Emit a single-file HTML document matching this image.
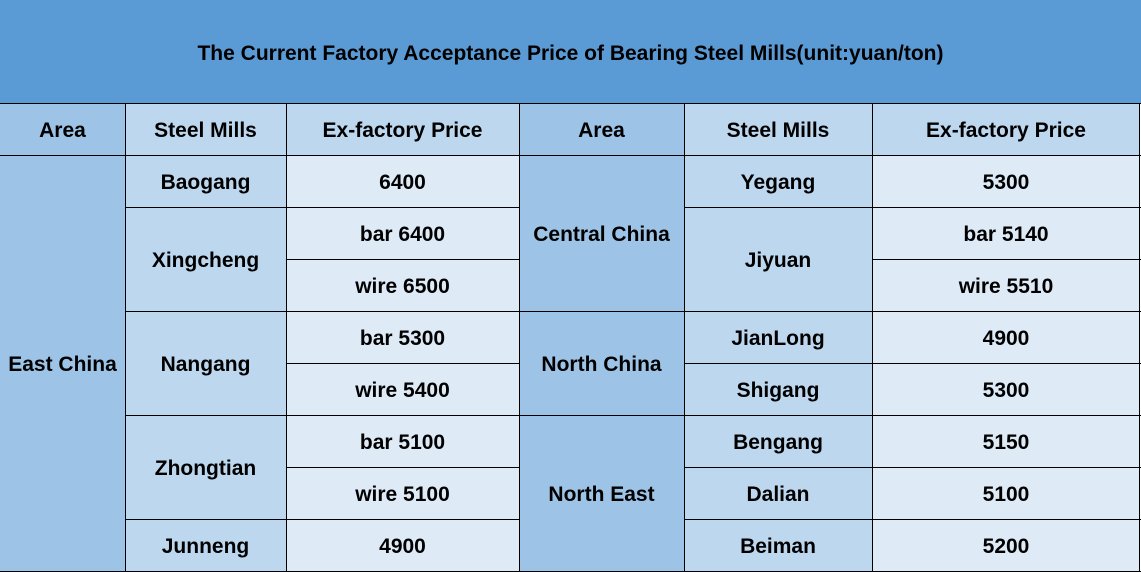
<!DOCTYPE html>
<html><head><meta charset="utf-8"><style>
body{margin:0;width:1141px;height:572px;background:#fff;position:relative;overflow:hidden;font-family:"Liberation Sans",Arial,sans-serif;font-weight:bold;}
.c{position:absolute;display:flex;align-items:center;justify-content:center;font-size:21px;color:#000;box-sizing:border-box;padding-top:4px;}
.h{position:absolute;background:#000;height:1px}
.v{position:absolute;background:#000;width:1px}
</style></head><body>
<div class="c" style="left:0;top:0;width:1141px;height:103px;background:#5b9bd5;">The Current Factory Acceptance Price of Bearing Steel Mills(unit:yuan/ton)</div>
<div class="c" style="left:0;top:103px;width:125px;height:52px;background:#9dc3e6">Area</div>
<div class="c" style="left:125px;top:103px;width:161px;height:52px;background:#bdd7ee">Steel Mills</div>
<div class="c" style="left:286px;top:103px;width:233px;height:52px;background:#bdd7ee">Ex-factory Price</div>
<div class="c" style="left:519px;top:103px;width:165px;height:52px;background:#9dc3e6">Area</div>
<div class="c" style="left:684px;top:103px;width:188px;height:52px;background:#bdd7ee">Steel Mills</div>
<div class="c" style="left:872px;top:103px;width:268px;height:52px;background:#bdd7ee">Ex-factory Price</div>
<div class="c" style="left:0;top:155px;width:125px;height:416px;background:#9dc3e6">East China</div>
<div class="c" style="left:125px;top:155px;width:161px;height:52px;background:#bdd7ee">Baogang</div>
<div class="c" style="left:125px;top:207px;width:161px;height:104px;background:#bdd7ee">Xingcheng</div>
<div class="c" style="left:125px;top:311px;width:161px;height:104px;background:#bdd7ee">Nangang</div>
<div class="c" style="left:125px;top:415px;width:161px;height:104px;background:#bdd7ee">Zhongtian</div>
<div class="c" style="left:125px;top:519px;width:161px;height:52px;background:#bdd7ee">Junneng</div>
<div class="c" style="left:286px;top:155px;width:233px;height:52px;background:#deebf7">6400</div>
<div class="c" style="left:286px;top:207px;width:233px;height:52px;background:#deebf7">bar 6400</div>
<div class="c" style="left:286px;top:259px;width:233px;height:52px;background:#deebf7">wire 6500</div>
<div class="c" style="left:286px;top:311px;width:233px;height:52px;background:#deebf7">bar 5300</div>
<div class="c" style="left:286px;top:363px;width:233px;height:52px;background:#deebf7">wire 5400</div>
<div class="c" style="left:286px;top:415px;width:233px;height:52px;background:#deebf7">bar 5100</div>
<div class="c" style="left:286px;top:467px;width:233px;height:52px;background:#deebf7">wire 5100</div>
<div class="c" style="left:286px;top:519px;width:233px;height:52px;background:#deebf7">4900</div>
<div class="c" style="left:519px;top:155px;width:165px;height:156px;background:#9dc3e6">Central China</div>
<div class="c" style="left:519px;top:311px;width:165px;height:104px;background:#9dc3e6">North China</div>
<div class="c" style="left:519px;top:415px;width:165px;height:156px;background:#9dc3e6">North East</div>
<div class="c" style="left:684px;top:155px;width:188px;height:52px;background:#bdd7ee">Yegang</div>
<div class="c" style="left:684px;top:207px;width:188px;height:104px;background:#bdd7ee">Jiyuan</div>
<div class="c" style="left:684px;top:311px;width:188px;height:52px;background:#bdd7ee">JianLong</div>
<div class="c" style="left:684px;top:363px;width:188px;height:52px;background:#bdd7ee">Shigang</div>
<div class="c" style="left:684px;top:415px;width:188px;height:52px;background:#bdd7ee">Bengang</div>
<div class="c" style="left:684px;top:467px;width:188px;height:52px;background:#bdd7ee">Dalian</div>
<div class="c" style="left:684px;top:519px;width:188px;height:52px;background:#bdd7ee">Beiman</div>
<div class="c" style="left:872px;top:155px;width:268px;height:52px;background:#deebf7">5300</div>
<div class="c" style="left:872px;top:207px;width:268px;height:52px;background:#deebf7">bar 5140</div>
<div class="c" style="left:872px;top:259px;width:268px;height:52px;background:#deebf7">wire 5510</div>
<div class="c" style="left:872px;top:311px;width:268px;height:52px;background:#deebf7">4900</div>
<div class="c" style="left:872px;top:363px;width:268px;height:52px;background:#deebf7">5300</div>
<div class="c" style="left:872px;top:415px;width:268px;height:52px;background:#deebf7">5150</div>
<div class="c" style="left:872px;top:467px;width:268px;height:52px;background:#deebf7">5100</div>
<div class="c" style="left:872px;top:519px;width:268px;height:52px;background:#deebf7">5200</div>
<div class="h" style="left:0;top:103px;width:1141px"></div>
<div class="h" style="left:0;top:155px;width:1141px"></div>
<div class="h" style="left:125px;top:207px;width:394px"></div>
<div class="h" style="left:286px;top:259px;width:233px"></div>
<div class="h" style="left:125px;top:311px;width:394px"></div>
<div class="h" style="left:286px;top:363px;width:233px"></div>
<div class="h" style="left:125px;top:415px;width:394px"></div>
<div class="h" style="left:286px;top:467px;width:233px"></div>
<div class="h" style="left:125px;top:519px;width:394px"></div>
<div class="h" style="left:0;top:571px;width:1141px"></div>
<div class="h" style="left:684px;top:207px;width:457px"></div>
<div class="h" style="left:872px;top:259px;width:269px"></div>
<div class="h" style="left:519px;top:311px;width:622px"></div>
<div class="h" style="left:684px;top:363px;width:457px"></div>
<div class="h" style="left:519px;top:415px;width:622px"></div>
<div class="h" style="left:684px;top:467px;width:457px"></div>
<div class="h" style="left:684px;top:519px;width:457px"></div>
<div class="v" style="left:125px;top:103px;height:469px"></div>
<div class="v" style="left:286px;top:103px;height:469px"></div>
<div class="v" style="left:519px;top:103px;height:469px"></div>
<div class="v" style="left:684px;top:103px;height:469px"></div>
<div class="v" style="left:872px;top:103px;height:469px"></div>
<div class="v" style="left:1139px;top:103px;height:469px"></div>
</body></html>
